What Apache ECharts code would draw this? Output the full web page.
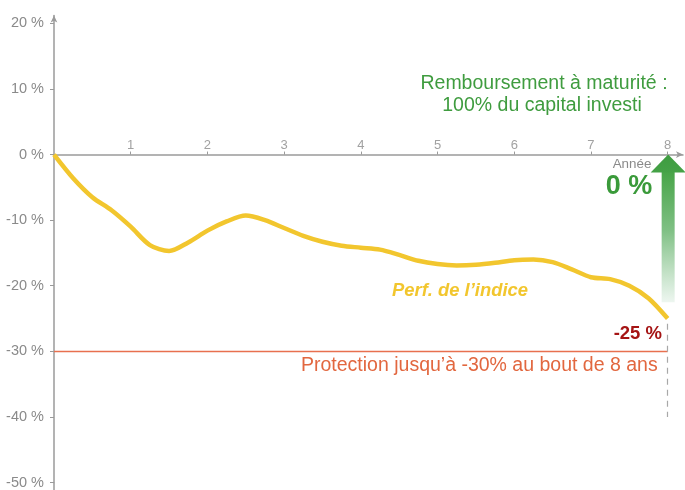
<!DOCTYPE html>
<html>
<head>
<meta charset="utf-8">
<script src="https://cdn.jsdelivr.net/npm/echarts@6/dist/echarts.min.js"></script>
<style>
html,body{margin:0;padding:0;background:#fff;}
#chart{width:685px;height:490px;}
</style>
</head>
<body>
<div id="chart"></div>
<script>
// Data
var years = [0, 0.25, 0.5, 0.75, 1.0, 1.25, 1.5, 1.75, 2.0, 2.25, 2.5, 2.75, 3.0, 3.25, 3.5, 3.75, 4.0, 4.25, 4.5, 4.75, 5.0, 5.25, 5.5, 5.75, 6.0, 6.25, 6.5, 6.75, 7.0, 7.25, 7.5, 7.75, 8.0];
var perf = [0, -3.6, -6.5, -8.5, -11.0, -13.8, -14.7, -13.4, -11.6, -10.2, -9.3, -10.0, -11.2, -12.4, -13.3, -13.9, -14.2, -14.5, -15.3, -16.2, -16.7, -16.9, -16.8, -16.5, -16.1, -16.0, -16.4, -17.5, -18.7, -19.0, -20.0, -21.9, -25.0];
var yTicks = [-50, -40, -30, -20, -10, 0, 10, 20];
var xTicks = [1, 2, 3, 4, 5, 6, 7, 8];
var protectionLevel = -30;
var maturityYear = 8;
var finalPerf = -25;
var repayPerf = 0;

var FONT = '"Liberation Sans", Arial, sans-serif';
var chart = echarts.init(document.getElementById('chart'), null, {renderer: 'canvas'});

var lineData = years.map(function (x, i) { return [x, perf[i]]; });
var xLabelData = xTicks.map(function (x) { return [x, 0]; });

var option = {
  animation: false,
  backgroundColor: '#ffffff',
  grid: {left: 54, right: 2, top: 15.5, bottom: 6, containLabel: false},
  xAxis: {
    type: 'value', min: 0, max: 8.2, interval: 1,
    axisLine: {onZero: true, lineStyle: {color: '#9a9a9a', width: 1.5}, symbol: ['none', 'arrow'], symbolSize: [5, 7]},
    axisTick: {show: true, length: 3, inside: true, customValues: xTicks, lineStyle: {color: '#9a9a9a'}},
    axisLabel: {show: false},
    splitLine: {show: false}
  },
  yAxis: {
    type: 'value', min: -50, max: 21.2, interval: 10,
    axisLine: {onZero: false, lineStyle: {color: '#9a9a9a', width: 1.5}, symbol: ['none', 'arrow'], symbolSize: [5, 7]},
    axisTick: {show: true, length: 4, customValues: yTicks, lineStyle: {color: '#9a9a9a'}},
    axisLabel: {customValues: yTicks, color: '#8a8a8a', fontSize: 14.5, fontFamily: FONT, margin: 10,
      formatter: function (v) { return (Math.abs(v % 10) < 1e-6) ? v + ' %' : ''; }},
    splitLine: {show: false}
  },
  series: [
    {
      type: 'scatter',
      data: xLabelData,
      symbolSize: 0,
      silent: true,
      label: {show: true, position: 'top', distance: 3, color: '#8a8a8a', fontSize: 13, fontFamily: FONT,
        formatter: function (p) { return String(p.value[0]); }}
    },
    {
      type: 'line',
      data: lineData,
      smooth: 0.3,
      showSymbol: false,
      lineStyle: {color: '#f2c62e', width: 4.5},
      z: 5,
      markLine: {
        silent: true, symbol: 'none', label: {show: false},
        lineStyle: {color: '#e8704f', width: 1.3, type: 'solid', opacity: 1},
        data: [
          [{coord: [0, protectionLevel]}, {coord: [maturityYear, protectionLevel]}]
        ]
      }
    },
    {
      type: 'line',
      data: [],
      markLine: {
        silent: true, symbol: 'none', label: {show: false},
        lineStyle: {color: '#a8a8a8', width: 1.2, type: [6, 5], opacity: 1},
        data: [
          [{coord: [maturityYear, finalPerf - 0.8]}, {coord: [maturityYear, -40]}]
        ]
      }
    }
  ]
};
chart.setOption(option);

function px(x, y) { return chart.convertToPixel({gridIndex: 0}, [x, y]); }
var tip = px(maturityYear, repayPerf);
var shaftBot = px(maturityYear, -22.5);
var yBottom = px(0, -50);
var headBase = tip[1] + 18;
var cx = tip[0] + 0.5;

chart.setOption({
  graphic: [
    {type: 'line', z: 2, shape: {x1: yBottom[0], y1: yBottom[1], x2: yBottom[0], y2: 490},
      style: {stroke: '#9a9a9a', lineWidth: 1.5}},
    {type: 'rect', z: 3,
      shape: {x: cx - 6.5, y: headBase - 1, width: 13, height: shaftBot[1] - headBase + 1},
      style: {fill: new echarts.graphic.LinearGradient(0, 0, 0, 1, [
        {offset: 0, color: '#47a447'}, {offset: 0.45, color: '#7fc084'}, {offset: 1, color: 'rgba(235,245,238,0.9)'}])}},
    {type: 'polygon', z: 3,
      shape: {points: [[cx, tip[1]], [cx + 17.5, headBase], [cx - 17.5, headBase]]},
      style: {fill: new echarts.graphic.LinearGradient(0, 0, 0, 1, [
        {offset: 0, color: '#3e9c40'}, {offset: 1, color: '#45a247'}])}},
    {type: 'text', z: 10,
      style: {text: 'Année', x: 632, y: 164, align: 'center', verticalAlign: 'middle', fill: '#8a8a8a', font: '13.4px ' + FONT}},
    {type: 'text', z: 10,
      style: {text: '0 %', x: 629, y: 187, align: 'center', verticalAlign: 'middle', fill: '#3a9a3a', font: 'bold 27px ' + FONT}},
    {type: 'text', z: 10,
      style: {text: 'Remboursement à maturité :', x: 544, y: 84, align: 'center', verticalAlign: 'middle',
        fill: '#3f9c3f', font: '19.5px ' + FONT}},
    {type: 'text', z: 10,
      style: {text: '100% du capital investi', x: 542, y: 106, align: 'center', verticalAlign: 'middle',
        fill: '#3f9c3f', font: '19.5px ' + FONT}},
    {type: 'text', z: 10,
      style: {text: "Perf. de l’indice", x: 460, y: 291, align: 'center', verticalAlign: 'middle',
        fill: '#f2c62e', font: 'italic bold 18.4px ' + FONT}},
    {type: 'text', z: 10,
      style: {text: '-25 %', x: 662, y: 334, align: 'right', verticalAlign: 'middle', fill: '#a51414', font: 'bold 18.5px ' + FONT}},
    {type: 'text', z: 10,
      style: {text: 'Protection jusqu’à -30% au bout de 8 ans', x: 301, y: 366, align: 'left', verticalAlign: 'middle',
        fill: '#e2673f', font: '19.5px ' + FONT}}
  ]
});
</script>
</body>
</html>
